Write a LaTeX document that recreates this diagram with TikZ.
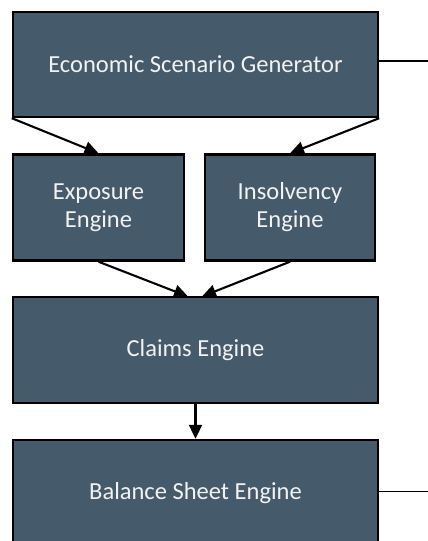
\documentclass[tikz,border=0pt]{standalone}
\usepackage{fontspec}
\setmainfont{Carlito}
\usetikzlibrary{arrows.meta}
\definecolor{boxfill}{HTML}{455A6B}
\tikzset{
  blk/.style={draw=black, line width=2.4pt, fill=boxfill, text=white!95!black, font=\fontsize{24.5}{28}\selectfont, align=center, inner sep=0pt},
  arr/.style={line width=2.1pt, -{Triangle[length=14pt,width=13pt]}},
  ln/.style={line width=1.8pt}
}
\begin{document}
\begin{tikzpicture}[x=1pt,y=-1pt]
\useasboundingbox (0,0) rectangle (428,541);
\begin{scope}
\clip (0,0) rectangle (428,541);
\node[blk, minimum width=365pt, minimum height=105pt] (esg) at (195.5,64.5) {Economic Scenario Generator};
\node[blk, minimum width=171pt, minimum height=106pt] (exp) at (98.5,207.5) {Exposure\\Engine};
\node[blk, minimum width=170pt, minimum height=106pt] (ins) at (290,207.5) {Insolvency\\Engine};
\node[blk, minimum width=365pt, minimum height=106pt] (clm) at (195.5,350) {Claims Engine};
\node[blk, minimum width=365pt, minimum height=106pt] (bse) at (195.5,493) {Balance Sheet Engine};
\coordinate (r1) at (428,61);
\coordinate (r2) at (428,491.5);
\coordinate (c1) at (188,296.5);
\coordinate (c2) at (202,296.5);
\draw[arr] (esg.south west) -- (exp.north);
\draw[arr] (esg.south east) -- (ins.north);
\draw[arr] (exp.south) -- (c1);
\draw[arr] (ins.south) -- (c2);
\draw[arr] (clm.south) -- (bse.north);
\draw[ln] (esg.east |- r1) -- (r1);
\draw[ln] (bse.east |- r2) -- (r2);
\end{scope}
\end{tikzpicture}
\end{document}
